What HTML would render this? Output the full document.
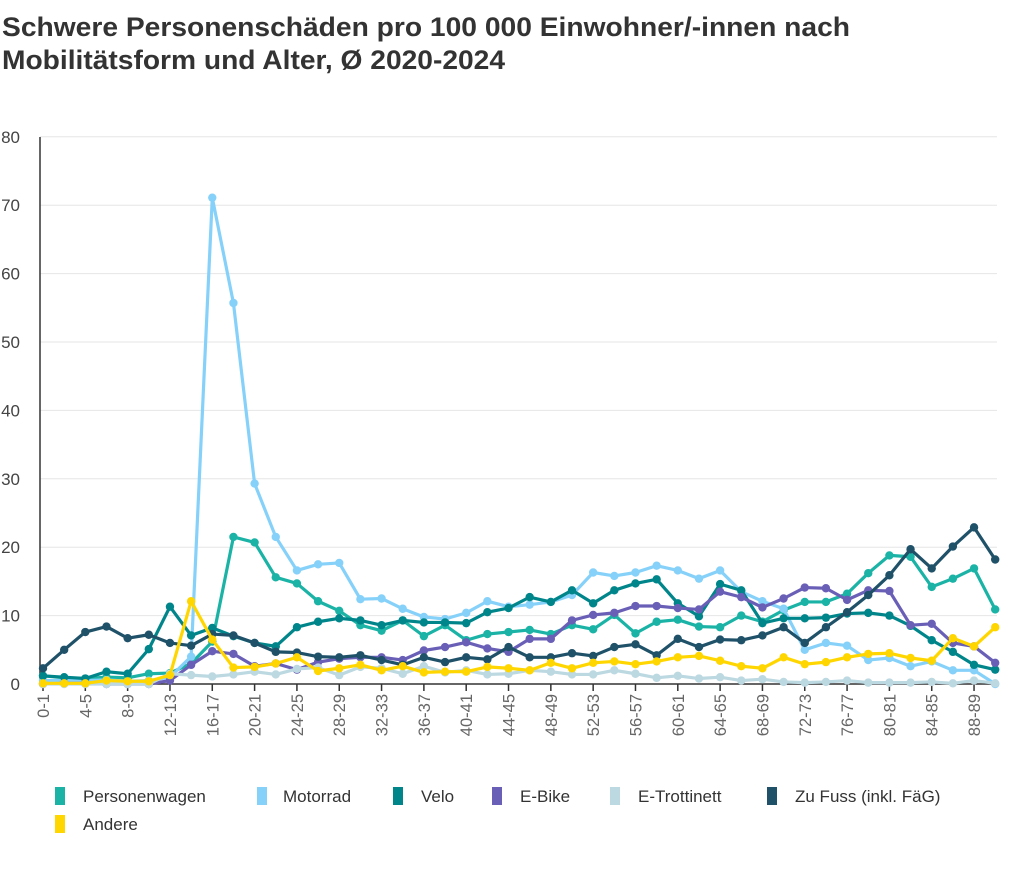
<!DOCTYPE html>
<html><head><meta charset="utf-8"><style>
body{margin:0;background:#fff;width:1030px;height:882px;overflow:hidden;font-family:"Liberation Sans",sans-serif;}
</style></head><body>
<svg width="1030" height="882" xmlns="http://www.w3.org/2000/svg" font-family="Liberation Sans, sans-serif">
<text x="2" y="36" font-size="26.5" font-weight="bold" fill="#333" textLength="848" lengthAdjust="spacingAndGlyphs">Schwere Personenschäden pro 100 000 Einwohner/-innen nach</text>
<text x="2" y="69" font-size="26.5" font-weight="bold" fill="#333" textLength="503" lengthAdjust="spacingAndGlyphs">Mobilitätsform und Alter, Ø 2020-2024</text>
<g id="grid" stroke="#e6e6e6" stroke-width="1"></g>
<g id="yl" font-size="17" fill="#444" text-anchor="end"></g>
<line x1="40" y1="137" x2="40" y2="684" stroke="#333" stroke-width="1.5"/>
<line x1="40" y1="684" x2="997" y2="684" stroke="#333" stroke-width="1.5"/>
<g id="xt" stroke="#333" stroke-width="1.5"></g>
<g id="xl" font-size="16.5" fill="#666" text-anchor="end"></g>
<g id="series"></g>
<g font-size="17" fill="#333">
<rect x="55" y="787" width="10" height="18" fill="#1ab3a6"/><text x="83" y="802">Personenwagen</text>
<rect x="257" y="787" width="10" height="18" fill="#86d1fa"/><text x="283" y="802">Motorrad</text>
<rect x="393" y="787" width="10" height="18" fill="#00858a"/><text x="421" y="802">Velo</text>
<rect x="492" y="787" width="10" height="18" fill="#6a5fb7"/><text x="520" y="802">E-Bike</text>
<rect x="610" y="787" width="10" height="18" fill="#bcd8e1"/><text x="638" y="802">E-Trottinett</text>
<rect x="767" y="787" width="10" height="18" fill="#1f5169"/><text x="795" y="802">Zu Fuss (inkl. FäG)</text>
<rect x="55" y="815" width="10" height="18" fill="#ffd600"/><text x="83" y="830">Andere</text>
</g>
</svg>
<script>
const NS="http://www.w3.org/2000/svg";
function el(t,a,p,txt){const e=document.createElementNS(NS,t);for(const k in a)e.setAttribute(k,a[k]);if(txt!=null)e.textContent=txt;p.appendChild(e);return e;}
const X=i=>43+21.16*i, Y=v=>684-6.84*v;
const g=document.getElementById('grid'),yl=document.getElementById('yl');
for(let v=0;v<=80;v+=10){if(v>0)el('line',{x1:40,x2:997,y1:Y(v),y2:Y(v)},g);el('text',{x:20,y:Y(v)+6},yl,String(v));}
const xt=document.getElementById('xt'),xl=document.getElementById('xl');
for(let i=0;i<=44;i+=2){el('line',{x1:X(i),x2:X(i),y1:684,y2:691},xt);const a=i*2;el('text',{transform:`translate(${X(i)+6},694) rotate(-90)`},xl,a+'-'+(a+1));}
const S=[
["#1ab3a6",[1.2,0.9,0.8,1.0,0.9,1.5,1.6,3.0,6.2,21.5,20.7,15.6,14.7,12.1,10.7,8.6,7.8,9.3,7.0,8.6,6.4,7.3,7.6,7.9,7.3,8.6,8.0,10.1,7.4,9.1,9.4,8.4,8.3,10.0,9.1,10.8,12.0,12.0,13.2,16.2,18.8,18.6,14.2,15.4,16.9,10.9]],
["#86d1fa",[0.5,0.5,0.5,0.6,0.4,0.5,1.0,4.0,71.1,55.7,29.3,21.5,16.6,17.5,17.7,12.4,12.5,11.0,9.8,9.5,10.4,12.1,11.3,11.6,12.0,13.0,16.3,15.8,16.3,17.3,16.6,15.4,16.6,13.5,12.1,11.0,5.0,6.0,5.6,3.5,3.8,2.6,3.3,2.0,2.0,0.0]],
["#00858a",[1.2,1.0,0.8,1.8,1.5,5.1,11.3,7.1,8.2,7.0,6.0,5.5,8.3,9.1,9.6,9.3,8.6,9.3,9.0,9.0,8.9,10.5,11.1,12.7,12.0,13.7,11.8,13.7,14.7,15.3,11.8,9.9,14.6,13.7,8.9,9.6,9.6,9.7,10.3,10.4,10.0,8.5,6.4,4.7,2.8,2.1]],
["#6a5fb7",[0,0.1,0.1,0,0,0,0.5,2.8,4.8,4.4,2.6,3.0,2.1,3.2,3.7,3.9,3.9,3.5,4.9,5.4,6.1,5.2,4.7,6.6,6.6,9.3,10.1,10.4,11.4,11.4,11.1,10.9,13.5,12.7,11.2,12.5,14.1,14.0,12.3,13.7,13.6,8.6,8.8,6.0,5.5,3.1]],
["#bcd8e1",[0,0,0,0,0,0,1.5,1.3,1.1,1.4,1.8,1.4,2.2,2.4,1.3,2.5,2.3,1.5,2.6,1.7,2.0,1.4,1.5,2.0,1.8,1.4,1.4,2.0,1.5,0.9,1.2,0.8,1.0,0.5,0.7,0.3,0.2,0.3,0.5,0.2,0.2,0.2,0.3,0.1,0.5,0.1]],
["#1f5169",[2.3,5.0,7.6,8.4,6.7,7.2,6.0,5.6,7.3,7.1,6.0,4.7,4.6,4.0,3.9,4.2,3.5,2.8,3.9,3.2,3.9,3.6,5.4,3.9,3.9,4.5,4.1,5.4,5.8,4.2,6.6,5.4,6.5,6.4,7.1,8.3,6.0,8.3,10.5,13.0,15.9,19.7,16.9,20.1,22.9,18.2]],
["#ffd600",[0.1,0.1,0.1,0.5,0.4,0.4,1.3,12.1,6.5,2.4,2.5,3.0,3.9,1.9,2.3,2.8,2.0,2.6,1.7,1.8,1.8,2.5,2.3,2.0,3.1,2.3,3.1,3.3,2.9,3.3,3.9,4.1,3.4,2.6,2.3,3.9,2.9,3.2,3.9,4.4,4.5,3.8,3.4,6.7,5.5,8.3]]
];
const sg=document.getElementById('series');
for(const [c,d] of S){const gg=el('g',{},sg);el('polyline',{points:d.map((v,i)=>X(i)+','+Y(v)).join(' '),fill:'none',stroke:c,'stroke-width':3.2,'stroke-linejoin':'round'},gg);d.forEach((v,i)=>el('circle',{cx:X(i),cy:Y(v),r:4.2,fill:c},gg));}
</script>
</body></html>
